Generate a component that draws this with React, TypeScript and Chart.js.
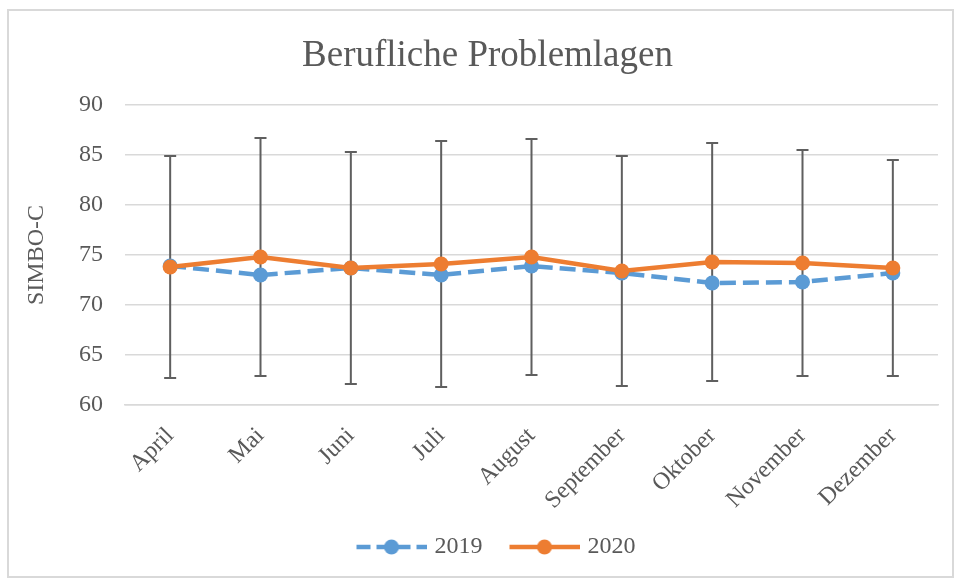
import React, { useEffect, useRef } from "react";
import { Chart, registerables } from "chart.js";

Chart.register(...registerables);

const categories = ["April", "Mai", "Juni", "Juli", "August", "September", "Oktober", "November", "Dezember"];
const values2019 = [73.9, 73.0, 73.7, 73.0, 73.9, 73.2, 72.2, 72.3, 73.2];
const values2020 = [73.8, 74.8, 73.7, 74.1, 74.8, 73.4, 74.3, 74.2, 73.7];
const errors2020 = [11.1, 11.9, 11.6, 12.3, 11.8, 11.5, 11.9, 11.3, 10.8];
const yMin = 60;
const yMax = 90;
const yStep = 5;
const seriesNames = ["2019", "2020"];
const chartTitle = "Berufliche Problemlagen";
const yTitle = "SIMBO-C";

const BLUE = "#5B9BD5";
const ORANGE = "#ED7D31";
const TEXT = "#595959";
const GRID = "#d9d9d9";
const FONT = "'Liberation Serif', 'Times New Roman', serif";

function makeLegendImage(color: string, dashed: boolean): HTMLCanvasElement {
  const c = document.createElement("canvas");
  c.width = 91;
  c.height = 18;
  const ctx = c.getContext("2d")!;
  ctx.strokeStyle = color;
  ctx.lineWidth = 4.5;
  ctx.setLineDash(dashed ? [14, 6] : []);
  ctx.beginPath();
  ctx.moveTo(21, 9);
  ctx.lineTo(91, 9);
  ctx.stroke();
  ctx.setLineDash([]);
  ctx.fillStyle = color;
  ctx.beginPath();
  ctx.arc(56, 9, 7.5, 0, Math.PI * 2);
  ctx.fill();
  return c;
}

const errorBarPlugin = {
  id: "errorBars",
  beforeDatasetsDraw(chart: any) {
    const ctx = chart.ctx;
    const xs = chart.scales.x;
    const ys = chart.scales.y;
    ctx.save();
    ctx.strokeStyle = "#5f5f5f";
    ctx.lineWidth = 2;
    values2020.forEach((v, i) => {
      const x = xs.getPixelForValue(i);
      const top = ys.getPixelForValue(v + errors2020[i]);
      const bot = ys.getPixelForValue(v - errors2020[i]);
      ctx.beginPath();
      ctx.moveTo(x, top);
      ctx.lineTo(x, bot);
      ctx.moveTo(x - 6, top);
      ctx.lineTo(x + 6, top);
      ctx.moveTo(x - 6, bot);
      ctx.lineTo(x + 6, bot);
      ctx.stroke();
    });
    ctx.restore();
  },
};

export default function App() {
  const ref = useRef<HTMLCanvasElement | null>(null);

  useEffect(() => {
    if (!ref.current) return;
    const img2019 = makeLegendImage(BLUE, true);
    const img2020 = makeLegendImage(ORANGE, false);
    const chart = new Chart(ref.current, {
      type: "line",
      data: {
        labels: categories,
        datasets: [
          {
            label: seriesNames[1],
            data: values2020,
            borderColor: ORANGE,
            backgroundColor: ORANGE,
            borderWidth: 4.5,
            pointRadius: 7.5,
            pointBackgroundColor: ORANGE,
            pointBorderColor: ORANGE,
            pointBorderWidth: 0,
            tension: 0,
          },
          {
            label: seriesNames[0],
            data: values2019,
            borderColor: BLUE,
            backgroundColor: BLUE,
            borderWidth: 4.5,
            borderDash: [16, 7],
            pointRadius: 7.5,
            pointBackgroundColor: BLUE,
            pointBorderColor: BLUE,
            pointBorderWidth: 0,
            tension: 0,
          },
        ],
      },
      options: {
        animation: false,
        responsive: false,
        maintainAspectRatio: false,
        layout: { padding: { left: 37, right: 17, top: 0, bottom: 10 } },
        plugins: {
          title: {
            display: true,
            text: chartTitle,
            color: TEXT,
            font: { family: FONT, size: 37, weight: "normal" },
            padding: { top: 34, bottom: 26.6 },
          },
          legend: {
            display: true,
            position: "bottom",
            labels: {
              usePointStyle: true,
              pointStyleWidth: 83,
              padding: 10,
              color: TEXT,
              font: { family: FONT, size: 24 },
              generateLabels: () => [
                {
                  text: seriesNames[0],
                  fillStyle: BLUE,
                  strokeStyle: BLUE,
                  lineWidth: 0,
                  hidden: false,
                  pointStyle: img2019,
                  datasetIndex: 1,
                  fontColor: TEXT,
                },
                {
                  text: seriesNames[1],
                  fillStyle: ORANGE,
                  strokeStyle: ORANGE,
                  lineWidth: 0,
                  hidden: false,
                  pointStyle: img2020,
                  datasetIndex: 0,
                  fontColor: TEXT,
                },
              ],
            },
          },
          tooltip: { enabled: false },
        },
        scales: {
          x: {
            offset: true,
            grid: { display: false, drawTicks: false },
            border: { display: true, color: GRID, width: 1.5 },
            ticks: {
              color: TEXT,
              font: { family: FONT, size: 24 },
              minRotation: 45,
              maxRotation: 45,
              autoSkip: false,
              padding: 17,
              labelOffset: 0,
            },
            afterFit: (s: any) => {
              s.height = 120;
            },
          },
          y: {
            min: yMin,
            max: yMax,
            ticks: {
              stepSize: yStep,
              color: TEXT,
              font: { family: FONT, size: 24 },
              padding: 22,
            },
            grid: { color: GRID, lineWidth: 1.5, drawTicks: false },
            border: { display: false },
            title: {
              display: true,
              text: yTitle,
              color: TEXT,
              font: { family: FONT, size: 24, lineHeight: 1 },
              padding: { top: -12, bottom: 0 },
            },
            afterFit: (s: any) => {
              s.width = 88;
            },
          },
        },
      },
      plugins: [errorBarPlugin],
    });
    return () => chart.destroy();
  }, []);

  return (
    <div style={{ position: "absolute", left: 0, top: 0, width: 955, height: 579, background: "#fff" }}>
      <canvas ref={ref} width={955} height={579} style={{ display: "block", width: 955, height: 579 }} />
      <div
        style={{
          position: "absolute",
          left: 7,
          top: 9,
          width: 947,
          height: 569,
          boxSizing: "border-box",
          border: `2px solid ${GRID}`,
          pointerEvents: "none",
        }}
      />
    </div>
  );
}
